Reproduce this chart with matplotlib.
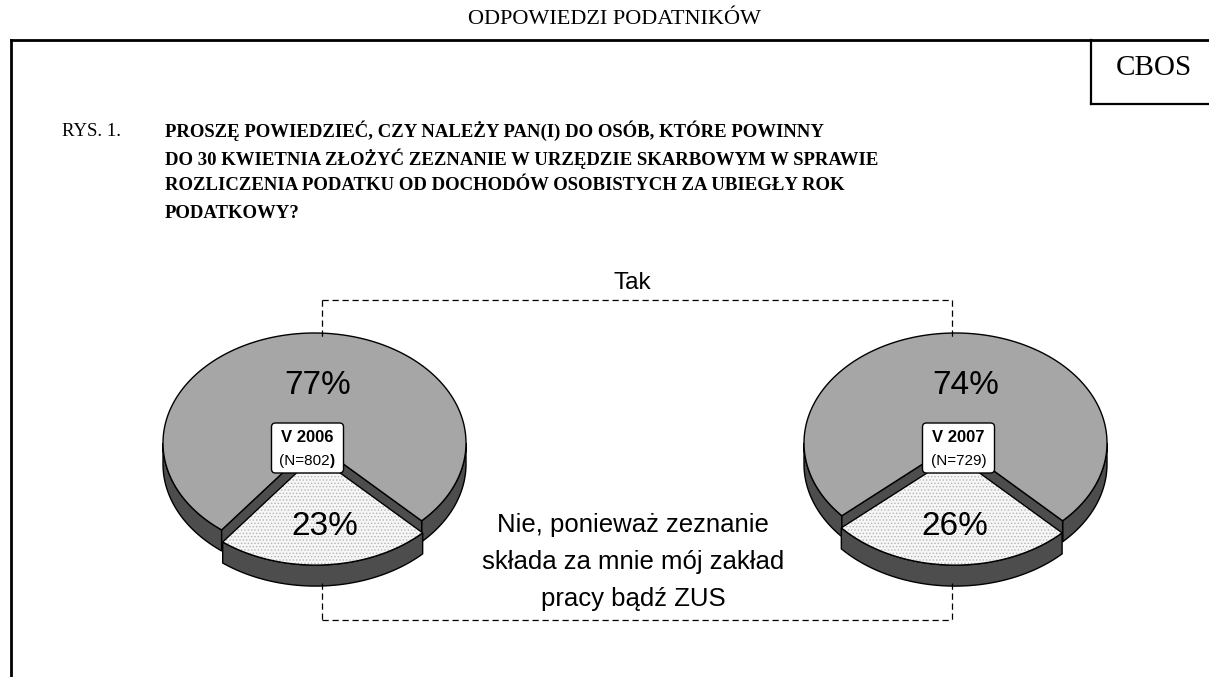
import numpy as np
import matplotlib.pyplot as plt
from matplotlib.patches import Polygon, FancyBboxPatch

# survey data
waves = ['V 2006', 'V 2007']
n_resp = [802, 729]
tak = [77, 74]   # "Tak"
nie = [23, 26]   # "Nie, ponieważ zeznanie składa za mnie ..."

title = 'ODPOWIEDZI PODATNIKÓW'
question = ['PROSZĘ POWIEDZIEĆ, CZY NALEŻY PAN(I) DO OSÓB, KTÓRE POWINNY',
            'DO 30 KWIETNIA ZŁOŻYĆ ZEZNANIE W URZĘDZIE SKARBOWYM W SPRAWIE',
            'ROZLICZENIA PODATKU OD DOCHODÓW OSOBISTYCH ZA UBIEGŁY ROK',
            'PODATKOWY?']
tak_label = 'Tak'
nie_label = 'Nie, ponieważ zeznanie\nskłada za mnie mój zakład\npracy bądź ZUS'

# pie geometry (pixels)
centers_x = [314.5, 955.5]
cy = 443
a, b = 151.5, 110
depth = 21
start = 45          # where the "nie" slice begins, degrees (screen, y down)
expl = 0.11

TOP = '#a6a6a6'
SIDE = '#4d4d4d'

plt.rcParams['hatch.linewidth'] = 0.6
plt.rcParams['hatch.color'] = '#b4b4b4'

fig = plt.figure(figsize=(12.09, 6.77), dpi=100)
ax = fig.add_axes([0, 0, 1, 1])
ax.set_xlim(0, 1209)
ax.set_ylim(677, 0)
ax.axis('off')


def rim(cx, cy, t):
    return cx + a * np.cos(t), cy + b * np.sin(t)


def arc(cx, cy, t1, t2, n=80):
    t = np.radians(np.linspace(t1, t2, n))
    x, y = rim(cx, cy, t)
    return np.column_stack([x, y])


def front_parts(t1, t2):
    # parts of [t1, t2] that lie on the front half of the pie
    out = []
    for lo, hi in [(0, 180), (360, 540), (-360, -180)]:
        s, e = max(t1, lo), min(t2, hi)
        if e > s:
            out.append((s, e))
    return out


def wall(cx, cy, t1, t2, z):
    top = arc(cx, cy, t1, t2)
    bot = top[::-1] + [0, depth]
    ax.add_patch(Polygon(np.vstack([top, bot]), closed=True, fc=SIDE, ec='black', lw=1, zorder=z))


def radial(cx, cy, t):
    rx, ry = rim(cx, cy, np.radians(t))
    pts = [(cx, cy), (rx, ry), (rx, ry + depth), (cx, cy + depth)]
    ax.add_patch(Polygon(pts, closed=True, fc=SIDE, ec='black', lw=1, zorder=2))


for i in range(2):
    cx = centers_x[i]
    span = 360 * nie[i] / (nie[i] + tak[i])
    n1, n2 = start, start + span
    # main ("tak") slice
    for s, e in front_parts(n2, start + 360):
        wall(cx, cy, s, e, 2)
    radial(cx, cy, n1)
    radial(cx, cy, n2)
    pts = np.vstack([[cx, cy], arc(cx, cy, n2, start + 360, 200)])
    ax.add_patch(Polygon(pts, closed=True, fc=TOP, ec='black', lw=1, zorder=3))

    # exploded ("nie") slice
    mid = np.radians((n1 + n2) / 2)
    ox, oy = a * expl * np.cos(mid), b * expl * np.sin(mid)
    ecx, ecy = cx + ox, cy + oy
    for s, e in front_parts(n1, n2):
        wall(ecx, ecy, s, e, 4)
    pts = np.vstack([[ecx, ecy], arc(ecx, ecy, n1, n2)])
    ax.add_patch(Polygon(pts, closed=True, fc='#f6f6f6', ec='#b4b4b4', lw=0, hatch='.....', zorder=5))
    ax.add_patch(Polygon(pts, closed=True, fill=False, ec='black', lw=1, zorder=5))

    # percentage labels
    tmid = mid + np.pi
    tx, ty = rim(cx, cy, tmid)
    ax.text(cx + 0.55 * (tx - cx) + 8, cy + 0.55 * (ty - cy) + 3, f'{tak[i]}%', ha='center', va='center',
            fontsize=24, family='Liberation Sans', zorder=6)
    nx, ny = rim(ecx, ecy, mid)
    ax.text(ecx + 0.65 * (nx - ecx) + 3, ecy + 0.65 * (ny - ecy), f'{nie[i]}%', ha='center', va='center',
            fontsize=24, family='Liberation Sans', zorder=6)

    # wave box
    bx = cx - 7 if i == 0 else cx + 3
    ax.add_patch(FancyBboxPatch((bx - 36, 423), 72, 50, boxstyle='round,pad=0,rounding_size=4',
                                fc='white', ec='black', lw=1, zorder=7))
    ax.text(bx, 437, waves[i], ha='center', va='center', fontsize=12, fontweight='bold',
            family='Liberation Sans', zorder=8)
    if i == 0:
        t1 = ax.text(bx - 3, 461, f'(N={n_resp[i]}', ha='center', va='center', fontsize=11,
                     family='Liberation Sans', zorder=8)
        ax.annotate(')', xy=(1, 0), xycoords=t1, ha='left', va='bottom', fontsize=11,
                    fontweight='bold', family='Liberation Sans', zorder=8)
    else:
        ax.text(bx, 461, f'(N={n_resp[i]})', ha='center', va='center', fontsize=11,
                family='Liberation Sans', zorder=8)

# dashed connector
xl, xr = 322, 952
ytop, ybot = 300, 620
pie_top = cy - b
pie_bot = cy + b + depth + b * expl
dash = dict(color='black', lw=0.9, ls=(0, (5, 3)), zorder=9)
ax.plot([xl, xr], [ytop, ytop], **dash)
ax.plot([xl, xr], [ybot, ybot], **dash)
for x in (xl, xr):
    ax.plot([x, x], [ytop, pie_top + 4], **dash)
    ax.plot([x, x], [pie_bot - 3, ybot], **dash)

ax.text(632, 283, tak_label, ha='center', va='center', fontsize=17.5, family='Liberation Sans')
ax.text(633, 562, nie_label, ha='center', va='center', fontsize=18.5, family='Liberation Sans',
        linespacing=1.7)

# page frame
ax.plot([11, 1209], [40, 40], color='black', lw=2, solid_capstyle='projecting')
ax.plot([11, 11], [40, 677], color='black', lw=2)
ax.plot([1091, 1091], [40, 104], color='black', lw=1.6)
ax.plot([1091, 1209], [104, 104], color='black', lw=1.6)
ax.text(1154, 68, 'CBOS', ha='center', va='center', fontsize=21, family='Liberation Serif')
ax.text(615, 19, title, ha='center', va='center', fontsize=16, family='Liberation Serif')

ax.text(62, 131, 'RYS. 1.', ha='left', va='center', fontsize=13.5, family='Liberation Serif')
for k, line in enumerate(question):
    ax.text(165, 131 + k * 27.5, line, ha='left', va='center', fontsize=13.5, fontweight='bold',
            family='Liberation Serif')

fig.savefig('out.png', dpi=100)
